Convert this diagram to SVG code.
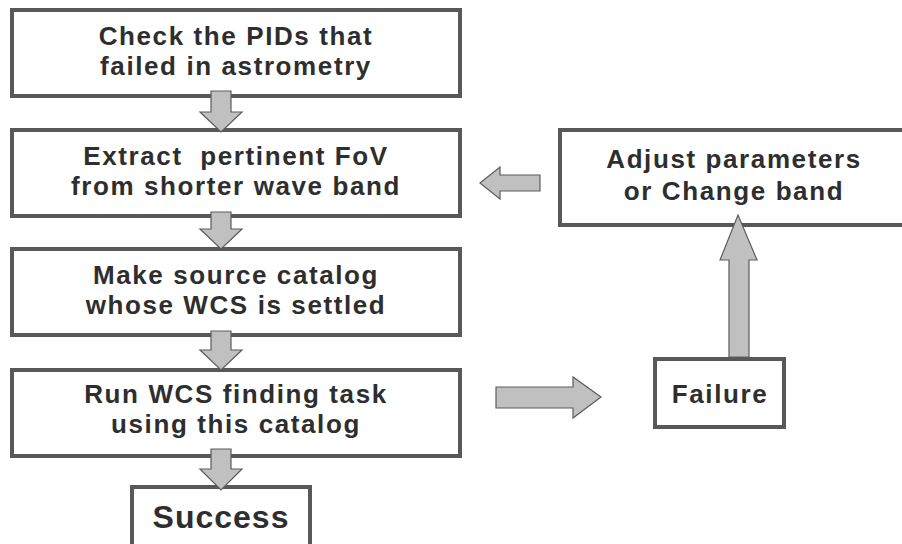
<svg xmlns="http://www.w3.org/2000/svg" width="902" height="544" viewBox="0 0 902 544">
  <style>
    .box { fill: #ffffff; stroke: #585858; stroke-width: 4; }
    .lbl { font-family: "Liberation Sans", Arial, sans-serif; font-weight: bold; font-size: 26px; letter-spacing: 1.6px; fill: #2e2e2e; text-anchor: middle; }
    .big { font-size: 32px; letter-spacing: 1px; }
    .arr { fill: #c0c0c0; stroke: #5c5c5c; stroke-width: 1.2; stroke-linejoin: miter; }
  </style>
  <rect width="902" height="544" fill="#ffffff"/>

  <g id="check">
    <rect class="box" x="12" y="10" width="448" height="86"/>
    <text class="lbl" x="236" y="45">Check the PIDs that</text>
    <text class="lbl" x="236" y="75">failed in astrometry</text>
  </g>

  <g id="extract">
    <rect class="box" x="12" y="130" width="448" height="86"/>
    <text class="lbl" x="236" y="165" xml:space="preserve">Extract  pertinent FoV</text>
    <text class="lbl" x="236" y="195">from shorter wave band</text>
  </g>

  <g id="catalog">
    <rect class="box" x="12" y="249" width="448" height="86"/>
    <text class="lbl" x="236" y="284">Make source catalog</text>
    <text class="lbl" x="236" y="314">whose WCS is settled</text>
  </g>

  <g id="run">
    <rect class="box" x="12" y="370" width="448" height="86"/>
    <text class="lbl" x="236" y="403">Run WCS finding task</text>
    <text class="lbl" x="236" y="433">using this catalog</text>
  </g>

  <g id="success">
    <rect class="box" x="132" y="487" width="178" height="70"/>
    <text class="lbl big" x="221" y="528">Success</text>
  </g>

  <g id="adjust">
    <rect class="box" x="560" y="130" width="344" height="95"/>
    <text class="lbl" x="734" y="168">Adjust parameters</text>
    <text class="lbl" x="734" y="200">or Change band</text>
  </g>

  <g id="failure">
    <rect class="box" x="655" y="359" width="129" height="68"/>
    <text class="lbl" x="720" y="403">Failure</text>
  </g>

  <g id="connectors">
    <!-- block arrows down the main column -->
    <polygon class="arr" points="211,91 231,91 231,112 242,112 221,132 200,112 211,112"/>
    <polygon class="arr" points="211,212 231,212 231,229 242,229 221,249 200,229 211,229"/>
    <polygon class="arr" points="211,331 231,331 231,350 242,350 221,370 200,350 211,350"/>
    <polygon class="arr" points="211,449 231,449 231,469 242,469 221,490 200,469 211,469"/>
    <!-- run task to failure -->
    <polygon class="arr" points="496,387 573,387 573,377 601,397 573,418 573,408 496,408"/>
    <!-- failure up to adjust -->
    <polygon class="arr" points="729,357 729,260 720,260 738,215 757,260 749,260 749,357"/>
    <!-- adjust back to extract -->
    <polygon class="arr" points="540,175 500,175 500,167 480,183 500,199 500,191 540,191"/>
  </g>
</svg>
